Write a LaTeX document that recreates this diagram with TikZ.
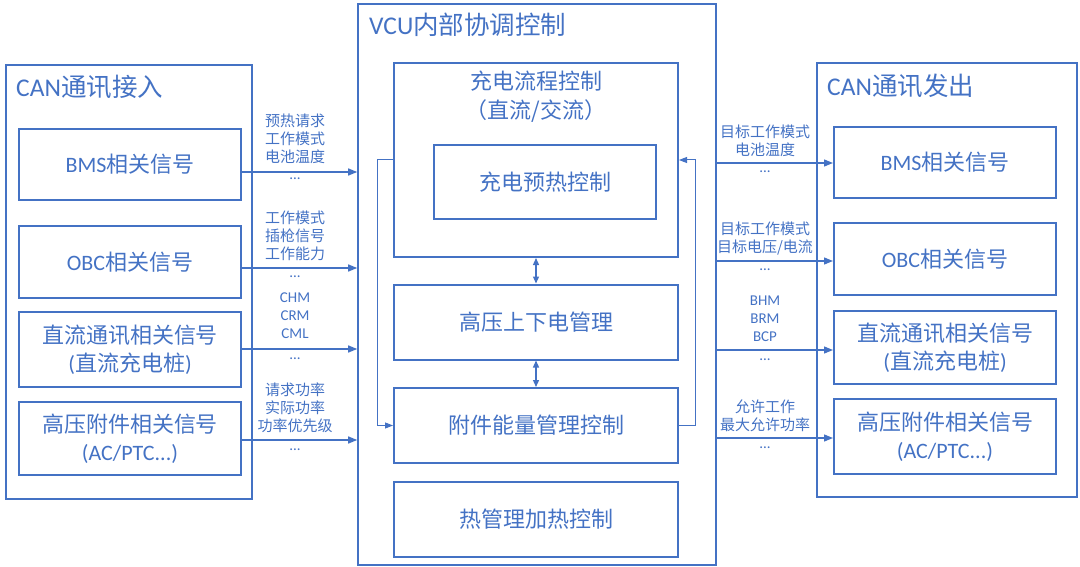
\documentclass[tikz,border=0pt]{standalone}
\usepackage{fontspec}
\setmainfont{Noto Sans CJK SC}
\newfontfamily\lat{Carlito}
\usepackage{tikz}
\usetikzlibrary{arrows.meta}
\definecolor{vcublue}{HTML}{4472C4}
\tikzset{
  group box/.style = {draw=vcublue, line width=1.6pt, inner sep=0pt},
  sig box/.style   = {draw=vcublue, line width=2pt, text=vcublue, align=center,
                      inner sep=0pt, minimum width=222pt, minimum height=73pt,
                      font=\fontsize{22}{28}\selectfont},
  ctrl box/.style  = {sig box, minimum width=284pt, minimum height=75pt},
  title/.style     = {anchor=west, text=vcublue, inner sep=0pt,
                      font=\fontsize{25.5}{30}\selectfont},
  sig label/.style = {text=vcublue, align=center, inner sep=0pt,
                      font=\fontsize{15}{18}\selectfont},
  dots/.style      = {text=vcublue, anchor=base, inner sep=0pt,
                      font=\lat\fontsize{15}{18}\selectfont},
  sig/.style       = {vcublue, line width=1.3pt, -{Triangle[length=9pt,width=7pt]}},
  both/.style      = {vcublue, line width=1.3pt,
                      {Triangle[length=7pt,width=6pt]}-{Triangle[length=7pt,width=6pt]}},
  loopline/.style  = {vcublue, line width=1pt, -{Triangle[length=8pt,width=6pt]}},
}

\begin{document}
\begin{tikzpicture}[x=1pt, y=-1pt]
    \useasboundingbox (0,0) rectangle (1080,567);
    % CAN in
    \node[group box, minimum width=246pt, minimum height=434pt] (canin) at (129,282) {};
    \node[title] (canintitle) at (16,87) {{\lat CAN}通讯接入};
    \node[sig box, minimum height=71pt] (bmsin) at (130,164.5) {{\lat BMS}相关信号};
    \node[sig box, minimum height=72pt] (obcin) at (130,262) {{\lat OBC}相关信号};
    \node[sig box, minimum height=75pt] (dcin) at (130,349.5) {直流通讯相关信号\\{\lat(}直流充电桩{\lat)}};
    \node[sig box] (hvin) at (130,438.5) {高压附件相关信号\\{\lat(AC/PTC...)}};
    % VCU
    \node[group box, minimum width=358pt, minimum height=561pt] (vcu) at (537,284.5) {};
    \node[title] (vcutitle) at (369,25) {{\lat VCU}内部协调控制};
    \node[ctrl box, minimum height=194pt] (flow) at (536,160) {};
    \node[text=vcublue, align=center, inner sep=0pt, font=\fontsize{22}{29}\selectfont]
      (flowtxt) at (536,97) {充电流程控制\\（直流/交流）};
    \node[sig box, minimum height=74pt] (preheat) at (545,182) {充电预热控制};
    \node[ctrl box] (hv) at (536,322) {高压上下电管理};
    \node[ctrl box] (acc) at (536,425.5) {附件能量管理控制};
    \node[ctrl box] (thermal) at (536,519.5) {热管理加热控制};
    \draw[both] (flow.south) -- (hv.north);
    \draw[both] (hv.south) -- (acc.north);
    \draw[loopline] (flow.west) -- ++(-16,0) |- (acc.west);
    \draw[loopline] (acc.east) -- ++(16,0) |- (flow.east);
    % CAN out
    \node[group box, minimum width=260pt, minimum height=434pt] (canout) at (947,280) {};
    \node[title] (canouttitle) at (827,86) {{\lat CAN}通讯发出};
    \node[sig box, minimum height=71pt] (bmsout) at (945,162.5) {{\lat BMS}相关信号};
    \node[sig box, minimum height=72pt] (obcout) at (945,259) {{\lat OBC}相关信号};
    \node[sig box] (dcout) at (945,347.5) {直流通讯相关信号\\{\lat(}直流充电桩{\lat)}};
    \node[sig box, minimum height=75pt] (hvout) at (945,436.5) {高压附件相关信号\\{\lat(AC/PTC...)}};
    % signals in
    \draw[sig] (bmsin.east |- 0,172) -- (vcu.west |- 0,172);
    \draw[sig] (obcin.east |- 0,268) -- (vcu.west |- 0,268);
    \draw[sig] (dcin.east |- 0,349) -- (vcu.west |- 0,349);
    \draw[sig] (hvin.east |- 0,440) -- (vcu.west |- 0,440);
    \node[sig label] (bmsinsig) at (295,139) {预热请求\\工作模式\\电池温度};
    \node[dots] (bmsindots) at (295,180) {...};
    \node[sig label] (obcinsig) at (295,236) {工作模式\\插枪信号\\工作能力};
    \node[dots] (obcindots) at (295,277) {...};
    \node[sig label, font=\lat\fontsize{15}{18}\selectfont] (dcinsig) at (295,316) {CHM\\CRM\\CML};
    \node[dots] (dcindots) at (295,359) {...};
    \node[sig label] (hvinsig) at (295,408) {请求功率\\实际功率\\功率优先级};
    \node[dots] (hvindots) at (295,450) {...};
    % signals out
    \draw[sig] (vcu.east |- 0,163) -- (bmsout.west |- 0,163);
    \draw[sig] (vcu.east |- 0,261) -- (obcout.west |- 0,261);
    \draw[sig] (vcu.east |- 0,350) -- (dcout.west |- 0,350);
    \draw[sig] (vcu.east |- 0,438) -- (hvout.west |- 0,438);
    \node[sig label] (bmsoutsig) at (765,141) {目标工作模式\\电池温度};
    \node[dots] (bmsoutdots) at (765,173) {...};
    \node[sig label] (obcoutsig) at (765,238.5) {目标工作模式\\目标电压/电流};
    \node[dots] (obcoutdots) at (765,270) {...};
    \node[sig label, font=\lat\fontsize{15}{18}\selectfont] (dcoutsig) at (765,319) {BHM\\BRM\\BCP};
    \node[dots] (dcoutdots) at (765,360) {...};
    \node[sig label] (hvoutsig) at (765,416) {允许工作\\最大允许功率};
    \node[dots] (hvoutdots) at (765,448) {...};
  \end{tikzpicture}
\end{document}
